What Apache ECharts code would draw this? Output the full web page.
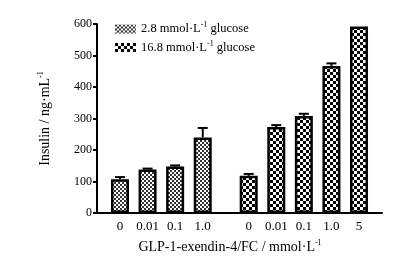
<!DOCTYPE html>
<html>
<head>
<meta charset="utf-8">
<script src="https://cdn.jsdelivr.net/npm/echarts@6/dist/echarts.min.js"></script>
<style>
  html, body { margin: 0; padding: 0; background: #fff; }
  #chart { width: 419px; height: 262px; }
</style>
</head>
<body>
<div id="chart"></div>
<script>
// doses, 2.8 mmol/L glucose group
var lowDoses = ['0', '0.01', '0.1', '1.0'];
var lowValues = [107, 138, 148, 240];
var lowErrors = [7, 3, 3, 30];
// doses, 16.8 mmol/L glucose group
var highDoses = ['0', '0.01', '0.1', '1.0', '5'];
var highValues = [118, 273, 308, 467, 592];
var highErrors = [6, 6, 7, 8, 0];
var yTicks = [0, 100, 200, 300, 400, 500, 600];

// the axis is split into narrow slots so the gap between the groups can be set
var slots = [];
var lowSlot = [], highSlot = [];
function pad(n) { for (var i = 0; i < n; i++) slots.push(''); }
pad(2);
lowDoses.forEach(function (d, i) {
  if (i > 0) pad(2);
  lowSlot.push(slots.length); slots.push(d);
});
pad(4);
highDoses.forEach(function (d, i) {
  if (i > 0) pad(2);
  highSlot.push(slots.length); slots.push(d);
});
pad(2);

var lowData = slots.map(function () { return null; });
var highData = slots.map(function () { return null; });
var errData = [];
lowSlot.forEach(function (s, i) {
  lowData[s] = lowValues[i];
  if (lowErrors[i] > 0) errData.push([s, lowValues[i], lowErrors[i]]);
});
highSlot.forEach(function (s, i) {
  highData[s] = highValues[i];
  if (highErrors[i] > 0) errData.push([s, highValues[i], highErrors[i]]);
});

function checker(cell, ink) {
  var c = document.createElement('canvas');
  c.width = c.height = cell * 2;
  var ctx = c.getContext('2d');
  ctx.fillStyle = '#fff';
  ctx.fillRect(0, 0, cell * 2, cell * 2);
  ctx.fillStyle = ink;
  ctx.fillRect(0, 0, cell, cell);
  ctx.fillRect(cell, cell, cell, cell);
  return c;
}

var serif = 'Liberation Serif';
function supStyle(size) {
  return {
    n: { fontFamily: serif, fontSize: size, color: '#000', lineHeight: 16 },
    s: { fontFamily: serif, fontSize: 8, color: '#000', lineHeight: 16, verticalAlign: 'top' }
  };
}

var myChart = echarts.init(document.getElementById('chart'));
var option = {
  animation: false,
  grid: { left: 97, right: 37, top: 24, bottom: 49 },
  legend: {
    orient: 'vertical',
    left: 115,
    top: 21,
    padding: 0,
    itemWidth: 21,
    itemHeight: 9,
    itemGap: 4,
    icon: 'rect',
    itemStyle: { borderWidth: 0 },
    data: ['low', 'high'],
    formatter: function (name) {
      return name === 'low'
        ? '{n|2.8 mmol·L}{s|-1}{n| glucose}'
        : '{n|16.8 mmol·L}{s|-1}{n| glucose}';
    },
    textStyle: { rich: supStyle(12.5) }
  },
  xAxis: {
    type: 'category',
    data: slots,
    z: 5,
    axisLine: { lineStyle: { color: '#000', width: 2 } },
    axisTick: {
      inside: true,
      length: 3,
      alignWithLabel: true,
      interval: function (i, v) { return v !== ''; },
      lineStyle: { color: '#000', width: 1.5 }
    },
    axisLabel: { interval: 0, margin: 7, color: '#000', fontFamily: serif, fontSize: 13 },
    name: '{n|GLP-1-exendin-4/FC / mmol·L}{s|-1}',
    nameLocation: 'middle',
    nameGap: 26,
    nameTextStyle: { padding: [0, 19, 0, 0], rich: supStyle(14) }
  },
  yAxis: {
    type: 'value',
    min: 0,
    max: yTicks[yTicks.length - 1],
    interval: 100,
    splitLine: { show: false },
    axisLine: { show: true, lineStyle: { color: '#000', width: 2 } },
    axisTick: { show: true, length: 4, lineStyle: { color: '#000', width: 2 } },
    axisLabel: { margin: 5, color: '#000', fontFamily: serif, fontSize: 12 },
    name: '{n|Insulin / ng·mL}{s|-1}',
    nameLocation: 'middle',
    nameGap: 44,
    nameTextStyle: { rich: supStyle(14) }
  },
  series: [
    {
      name: 'low',
      type: 'bar',
      data: lowData,
      barWidth: 18,
      barGap: '-100%',
      itemStyle: { color: { image: checker(2, '#333'), repeat: 'repeat' }, borderColor: '#000', borderWidth: 2.5 }
    },
    {
      name: 'high',
      type: 'bar',
      data: highData,
      barWidth: 18,
      barGap: '-100%',
      itemStyle: { color: { image: checker(3, '#000'), repeat: 'repeat' }, borderColor: '#000', borderWidth: 2.5 }
    },
    {
      type: 'custom',
      data: errData,
      z: 4,
      renderItem: function (params, api) {
        var top = api.coord([api.value(0), api.value(1) + api.value(2)]);
        var base = api.coord([api.value(0), api.value(1)]);
        var st = { stroke: '#000', lineWidth: 2 };
        return {
          type: 'group',
          children: [
            { type: 'line', shape: { x1: top[0], y1: top[1], x2: base[0], y2: base[1] }, style: st },
            { type: 'line', shape: { x1: top[0] - 5, y1: top[1], x2: top[0] + 5, y2: top[1] }, style: st }
          ]
        };
      }
    }
  ]
};
option && myChart.setOption(option);
window.addEventListener('resize', function () { myChart.resize(); });
</script>
</body>
</html>
